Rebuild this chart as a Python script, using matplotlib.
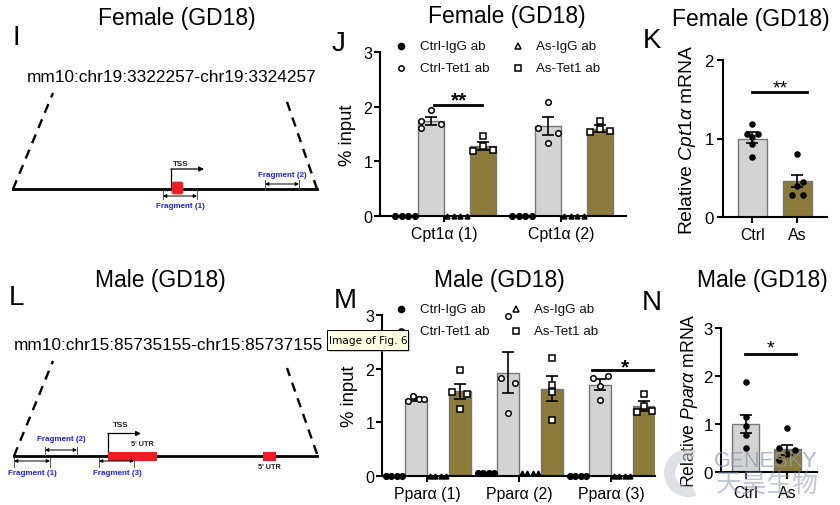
import matplotlib
matplotlib.use('Agg')
import matplotlib.pyplot as plt
from matplotlib.patches import FancyBboxPatch, Rectangle, Wedge

plt.rcParams['font.family'] = ['Liberation Sans', 'DejaVu Sans']
plt.rcParams['mathtext.fontset'] = 'custom'
plt.rcParams['mathtext.rm'] = 'Liberation Sans'
plt.rcParams['mathtext.it'] = 'Liberation Sans:italic'
plt.rcParams['mathtext.default'] = 'regular'

W, H = 840, 506
GREY = '#d3d3d3'
OLIVE = '#8b7a3a'
BLUE = '#2222ee'
RED = '#f01c24'

# Panel J, Cpt1a female
j_pos_ctrl = [1, 5.5]
j_pos_as = [3, 7.5]
j_pos_igg_ctrl = [0, 4.5]
j_pos_igg_as = [2, 6.5]
j_ctrl_mean = [1.74, 1.65]
j_ctrl_low = [1.66, 1.48]
j_ctrl_high = [1.81, 1.81]
j_as_mean = [1.28, 1.60]
j_as_low = [1.20, 1.54]
j_as_high = [1.36, 1.67]
j_ctrl_pts = [[1.73, 1.61, 1.93, 1.68], [1.61, 2.09, 1.34, 1.52]]
j_as_pts = [[1.18, 1.46, 1.28, 1.21], [1.53, 1.73, 1.60, 1.55]]
j_ctrl_off = [-0.37, -0.37, 0, 0.37]
j_ctrl_off2 = [-0.37, 0, 0, 0.37]
j_as_off = [-0.37, 0, 0, 0.37]
j_igg_off = [-0.37, -0.12, 0.12, 0.37]
j_igg_vals = [0, 0]
j_ticks = [1.5, 6]
j_labels = ['Cpt1α (1)', 'Cpt1α (2)']

# Panel K
k_pos = [0, 1]
k_mean = [1.0, 0.46]
k_low = [0.94, 0.38]
k_high = [1.08, 0.54]
k_ctrl_pts = [1.19, 1.06, 1.06, 1.02, 0.93, 0.77]
k_ctrl_off = [0, -0.12, 0.12, 0, 0, 0]
k_as_pts = [0.80, 0.45, 0.40, 0.28, 0.28]
k_as_off = [0, 0.12, 0, -0.12, 0.12]
k_labels = ['Ctrl', 'As']

# Panel M, Ppara male
m_pos_ctrl = [1, 5.18, 9.36]
m_pos_as = [3, 7.18, 11.36]
m_pos_igg_ctrl = [0, 4.18, 8.36]
m_pos_igg_as = [2, 6.18, 10.36]
m_ctrl_mean = [1.43, 1.92, 1.70]
m_ctrl_low = [1.40, 1.55, 1.60]
m_ctrl_high = [1.47, 2.31, 1.80]
m_as_mean = [1.59, 1.63, 1.31]
m_as_low = [1.43, 1.40, 1.22]
m_as_high = [1.72, 1.87, 1.40]
m_ctrl_pts = [[1.40, 1.49, 1.43, 1.43], [1.83, 2.98, 1.18, 1.74], [1.83, 1.68, 1.41, 1.86]]
m_as_pts = [[1.56, 1.97, 1.24, 1.53], [2.19, 1.70, 1.57, 1.05], [1.19, 1.53, 1.30, 1.22]]
m_ctrl_off = [[-0.35, -0.12, 0.12, 0.35], [-0.33, 0, 0, 0.33], [-0.33, 0, 0, 0.35]]
m_as_off = [[-0.36, 0, 0, 0.33], [0, 0, 0, 0], [-0.33, 0, 0, 0.36]]
m_igg_off = [-0.35, -0.12, 0.12, 0.35]
m_igg_ctrl = [0, 0.05, 0]
m_igg_as = [0, 0.05, 0]
m_ticks = [1.5, 5.68, 9.86]
m_labels = ['Pparα (1)', 'Pparα (2)', 'Pparα (3)']

# Panel N
n_pos = [0, 1]
n_mean = [1.0, 0.47]
n_low = [0.81, 0.36]
n_high = [1.19, 0.57]
n_ctrl_pts = [1.875, 1.15, 0.95, 0.78, 0.51]
n_ctrl_off = [0, 0, 0, 0, 0]
n_as_pts = [0.92, 0.49, 0.45, 0.38, 0.25]
n_as_off = [0, -0.2, 0.19, 0, -0.2]

legend_names = [['Ctrl-IgG ab', 'Ctrl-Tet1 ab'], ['As-IgG ab', 'As-Tet1 ab']]
legend_marks = [['o', 'o'], ['^', 's']]
legend_face = [['black', 'white'], ['white', 'white']]

fig = plt.figure(figsize=(W / 100, H / 100), dpi=100)


def make_axes(x0, x1, ytop, ybot, xlim, ymax, yticks, xticks, xlabels, ylabel, ylab_size, ylab_x,
              ytick_size=11.6, ytick_pad=1.5):
    ax = fig.add_axes([x0 / W, 1 - ybot / H, (x1 - x0) / W, (ybot - ytop) / H])
    ax.set_xlim(xlim)
    ax.set_ylim(0, ymax)
    ax.patch.set_alpha(0)
    for s in ['top', 'right']:
        ax.spines[s].set_visible(False)
    for s in ['left', 'bottom']:
        ax.spines[s].set_linewidth(1.5)
    ax.set_yticks(yticks)
    ax.set_xticks(xticks)
    ax.set_xticklabels(xlabels, fontsize=11.4)
    ax.tick_params(axis='y', labelsize=ytick_size, length=4, width=1.5, pad=ytick_pad)
    ax.tick_params(axis='x', length=4, width=1.5, pad=3.5)
    ax.set_ylabel(ylabel, fontsize=ylab_size, va='center')
    ax.yaxis.set_label_coords((ylab_x - x0) / (x1 - x0), 0.5)
    return ax


def draw_bars(ax, pos, mean, low, high, color, width, capsize=4.5):
    ax.bar(pos, mean, width=width, color=color, edgecolor='#777777', linewidth=1, zorder=2)
    err = [[m - l for m, l in zip(mean, low)], [h - m for m, h in zip(mean, high)]]
    ax.errorbar(pos, mean, yerr=err, fmt='none', ecolor='black', elinewidth=1.2,
                capsize=capsize, capthick=1.2, zorder=3)


def draw_points(ax, x, vals, off, marker, face, size=4):
    xs = [x + o for o in off]
    ax.plot(xs, vals, ls='none', marker=marker, ms=size, mfc=face, mec='black',
            mew=1.1, zorder=4, clip_on=False)


# J
ax_j = make_axes(380, 626, 53, 217, (-0.96, 8.5), 3, [0, 1, 2, 3], j_ticks, j_labels, '% input', 13.3, 348)
draw_bars(ax_j, j_pos_ctrl, j_ctrl_mean, j_ctrl_low, j_ctrl_high, GREY, 0.98)
draw_bars(ax_j, j_pos_as, j_as_mean, j_as_low, j_as_high, OLIVE, 0.98)
for i in range(2):
    draw_points(ax_j, j_pos_ctrl[i], j_ctrl_pts[i], [j_ctrl_off, j_ctrl_off2][i], 'o', 'white')
    draw_points(ax_j, j_pos_as[i], j_as_pts[i], j_as_off, 's', 'white')
    draw_points(ax_j, j_pos_igg_ctrl[i], [j_igg_vals[i]] * 4, j_igg_off, 'o', 'black')
    draw_points(ax_j, j_pos_igg_as[i], [j_igg_vals[i]] * 4, j_igg_off, '^', 'black', 3.5)
ax_j.plot([1.12, 2.96], [2.03, 2.03], color='black', lw=2)
ax_j.text(2.08, 2.12, '**', ha='center', va='center', fontsize=15, fontweight='bold')

# K
ax_k = make_axes(723, 827, 61, 218, (-0.65, 1.66), 2, [0, 1, 2], k_pos, k_labels,
                 r'Relative $\mathit{Cpt1α}$ mRNA', 13.9, 688, 12.2, 2.5)
draw_bars(ax_k, k_pos, k_mean, k_low, k_high, [GREY, OLIVE], 0.65, 4)
draw_points(ax_k, 0, k_ctrl_pts, k_ctrl_off, 'o', 'black', 3.6)
draw_points(ax_k, 1, k_as_pts, k_as_off, 'o', 'black', 3.6)
ax_k.plot([0, 1.22], [1.59, 1.59], color='black', lw=2)
ax_k.text(0.62, 1.65, '**', ha='center', va='center', fontsize=14)

# M
ax_m = make_axes(382, 655, 316, 477, (-0.55, 11.86), 3, [0, 1, 2, 3], m_ticks, m_labels, '% input', 13.3, 350)
draw_bars(ax_m, m_pos_ctrl, m_ctrl_mean, m_ctrl_low, m_ctrl_high, GREY, 0.98)
draw_bars(ax_m, m_pos_as, m_as_mean, m_as_low, m_as_high, OLIVE, 0.98)
for i in range(3):
    draw_points(ax_m, m_pos_ctrl[i], m_ctrl_pts[i], m_ctrl_off[i], 'o', 'white')
    draw_points(ax_m, m_pos_as[i], m_as_pts[i], m_as_off[i], 's', 'white')
    draw_points(ax_m, m_pos_igg_ctrl[i], [m_igg_ctrl[i]] * 4, m_igg_off, 'o', 'black')
    draw_points(ax_m, m_pos_igg_as[i], [m_igg_as[i]] * 4, m_igg_off, '^', 'black', 3.5)
ax_m.plot([9.0, 11.86], [1.98, 1.98], color='black', lw=2)
ax_m.text(10.5, 2.03, '*', ha='center', va='center', fontsize=15, fontweight='bold')

# N
ax_n = make_axes(721, 817, 329, 473, (-0.6, 1.72), 3, [0, 1, 2, 3], n_pos, k_labels,
                 r'Relative $\mathit{Pparα}$ mRNA', 12.7, 689, 12.2, 2)
draw_bars(ax_n, n_pos, n_mean, n_low, n_high, [GREY, OLIVE], 0.66, 4)
draw_points(ax_n, 0, n_ctrl_pts, n_ctrl_off, 'o', 'black', 3.6)
draw_points(ax_n, 1, n_as_pts, n_as_off, 'o', 'black', 3.6)
ax_n.plot([-0.02, 1.22], [2.45, 2.45], color='black', lw=2)
ax_n.text(0.6, 2.58, '*', ha='center', va='center', fontsize=14)
ax_n.tick_params(axis='x', length=5, pad=4)

# Overlay in pixel coordinates for titles, schematics, legends and tooltip
ov = fig.add_axes([0, 0, 1, 1], zorder=10)
ov.set_xlim(0, W)
ov.set_ylim(H, 0)
ov.axis('off')

titles = [(177, 18, 'Female (GD18)'), (507, 16, 'Female (GD18)'), (751, 19, 'Female (GD18)'),
          (160, 280, 'Male (GD18)'), (499, 280, 'Male (GD18)'), (762, 280, 'Male (GD18)')]
for x, y, t in titles:
    ov.text(x, y, t, ha='center', va='center', fontsize=16.5)

letters = [(16, 38, 'I'), (339, 44, 'J'), (652, 41, 'K'), (16, 298, 'L'), (345, 301, 'M'), (652, 303, 'N')]
for x, y, t in letters:
    ov.text(x, y, t, ha='center', va='center', fontsize=20)


def legend(xl, xr, y1, y2, tl, tr):
    for col, (xm, xt) in enumerate([(xl, tl), (xr, tr)]):
        for row, y in enumerate([y1, y2]):
            ov.plot([xm], [y], marker=legend_marks[col][row], ms=4.4 if row == 0 and col == 0 else 3.8,
                    mfc=legend_face[col][row], mec='black', mew=1.1, ls='none')
            ov.text(xt, y, legend_names[col][row], ha='left', va='center', fontsize=9.6, color='#111111')


legend(401, 518, 47, 69, 419.5, 536)
legend(401, 516, 310, 332, 420, 534)


def dim(x0, x1, y, ytop, ybot, name, tx, ty):
    ov.annotate('', xy=(x0, y), xytext=(x1, y),
                arrowprops=dict(arrowstyle='<|-|>', color='black', lw=0.7, mutation_scale=5, shrinkA=0, shrinkB=0))
    for xx in (x0, x1):
        ov.plot([xx, xx], [ytop, ybot], color='#555555', lw=0.7)
    ov.text(tx, ty, name, ha='center', va='center', fontsize=5.8, color=BLUE, fontweight='bold')


def tss(x, ybase, ytop, xend, tx, ty):
    ov.plot([x, x], [ybase, ytop], color='black', lw=0.9)
    ov.annotate('', xy=(xend, ytop), xytext=(x, ytop),
                arrowprops=dict(arrowstyle='-|>', color='black', lw=0.9, mutation_scale=7, shrinkA=0, shrinkB=0))
    ov.text(tx, ty, 'TSS', ha='center', va='center', fontsize=5.8, fontweight='bold', color='#222222')


# Schematic I
ov.text(171.5, 77, 'mm10:chr19:3322257-chr19:3324257', ha='center', va='center', fontsize=12.4)
ov.plot([13, 317], [190, 190], color='black', lw=2)
ov.plot([13, 53], [190, 94], color='black', lw=1.7, ls=(0, (4, 3)))
ov.plot([317, 286], [190, 100], color='black', lw=1.7, ls=(0, (4, 3)))
ov.add_patch(FancyBboxPatch((173.5, 184.5), 8, 9, boxstyle='round,pad=1.5,rounding_size=2', fc=RED, ec='#c04040', lw=0.6, zorder=3))
tss(171, 190, 170, 204, 180.5, 164)
dim(163, 197, 197, 191, 200, 'Fragment (1)', 180, 207)
dim(265, 299, 185, 181, 190, 'Fragment (2)', 282, 175)

# Schematic L
ov.text(168, 346, 'mm10:chr15:85735155-chr15:85737155', ha='center', va='center', fontsize=12.4)
ov.plot([14, 317], [457, 457], color='black', lw=2)
ov.plot([14, 53], [457, 362], color='black', lw=1.7, ls=(0, (4, 3)))
ov.plot([317, 287], [455, 369], color='black', lw=1.7, ls=(0, (4, 3)))
ov.add_patch(Rectangle((108, 453), 49, 9, fc=RED, ec='none', zorder=3))
ov.add_patch(Rectangle((263, 453), 13, 9, fc=RED, ec='none', zorder=3))
tss(108, 457, 434.5, 141, 121, 426)
ov.text(142, 445, "5' UTR", ha='center', va='center', fontsize=5.2, fontweight='bold', color='#222222')
ov.text(269, 468, "5' UTR", ha='center', va='center', fontsize=5.2, fontweight='bold', color='#222222')
dim(14, 50, 462, 459, 468, 'Fragment (1)', 32, 474)
dim(45, 77, 451, 448, 456, 'Fragment (2)', 61, 440)
dim(99, 134, 462, 459, 468, 'Fragment (3)', 117, 474)

# Tooltip
ov.add_patch(Rectangle((328.5, 332.5), 81, 20, fc='#999999', ec='none', alpha=0.5, zorder=6))
ov.add_patch(Rectangle((327, 331), 81, 20, fc='#ffffe1', ec='black', lw=0.7, zorder=7))
ov.text(368, 341, 'Image of Fig. 6', ha='center', va='center', fontsize=7.6, family='DejaVu Sans', zorder=8)

# Watermark
wm = '#8c98b4'
ov.add_patch(Wedge((688, 474), 24, 70, 290, width=11, fc='#c8ccd6', ec='none', alpha=0.6, zorder=6))
ov.text(766, 462, 'GENESKY', ha='center', va='center', fontsize=15.5, color=wm, alpha=0.7, zorder=6)
ov.text(767, 486, '天昊生物', ha='center', va='center', fontsize=18.5, color=wm, alpha=0.55, zorder=6,
        family=['Noto Sans CJK SC', 'DejaVu Sans'])

fig.savefig('out.png', dpi=100)
